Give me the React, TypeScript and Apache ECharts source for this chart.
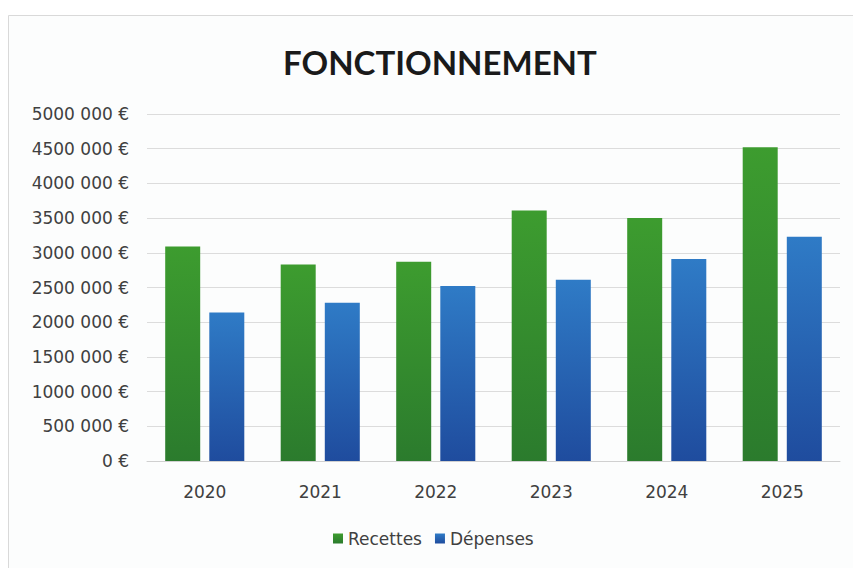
import React, { useEffect, useRef } from "react";
import * as echarts from "echarts";

const categories = ["2020", "2021", "2022", "2023", "2024", "2025"];
const recettes = [3090000, 2830000, 2870000, 3610000, 3500000, 4520000];
const depenses = [2140000, 2280000, 2520000, 2610000, 2910000, 3230000];
const seriesNames = ["Recettes", "Dépenses"];
const titleText = "FONCTIONNEMENT";

function fmt(v: number): string {
  if (v === 0) return "0 €";
  const k = Math.round(v / 1000);
  return `${k} 000 €`;
}

export default function App() {
  const ref = useRef<HTMLDivElement>(null);
  useEffect(() => {
    document.body.style.margin = "0";
    const chart = echarts.init(ref.current!, null, { renderer: "svg" });
    const font = "'DejaVu Sans', sans-serif";
    chart.setOption({
      animation: false,
      backgroundColor: "#ffffff",
      graphic: [
        {
          type: "rect",
          shape: { x: 8.5, y: 15.5, width: 860, height: 580 },
          style: { fill: "#fcfdfd", stroke: "#d9d9d9", lineWidth: 1 },
          z: -10,
        },
      ],
      title: {
        text: titleText,
        left: 278,
        top: 40,
        textStyle: { fontFamily: "Lato, sans-serif", fontSize: 33, fontWeight: "bold", color: "#1a1a1a" },
      },
      legend: {
        data: seriesNames,
        top: 530,
        left: 333,
        padding: 0,
        itemWidth: 10,
        itemHeight: 10,
        itemGap: 13,
        icon: "rect",
        textStyle: { fontFamily: font, fontSize: 17, color: "#404040" },
      },
      grid: { left: 147, right: 13, top: 114, bottom: 107, containLabel: false },
      xAxis: {
        type: "category",
        data: categories,
        axisLine: { lineStyle: { color: "#d0d0d0" } },
        axisTick: { show: false },
        axisLabel: { fontFamily: font, fontSize: 17, color: "#404040", margin: 22 },
      },
      yAxis: {
        type: "value",
        min: 0,
        max: 5000000,
        interval: 500000,
        axisLine: { show: false },
        axisTick: { show: false },
        splitLine: { lineStyle: { color: "#dcdcdc" } },
        axisLabel: { fontFamily: font, fontSize: 17, color: "#404040", margin: 18, formatter: fmt },
      },
      series: [
        {
          name: seriesNames[0],
          type: "bar",
          data: recettes,
          barWidth: 35,
          barGap: "26%",
          itemStyle: {
            color: new echarts.graphic.LinearGradient(0, 0, 0, 1, [
              { offset: 0, color: "#3d9c2f" },
              { offset: 1, color: "#2b7b2d" },
            ]),
          },
        },
        {
          name: seriesNames[1],
          type: "bar",
          data: depenses,
          barWidth: 35,
          itemStyle: {
            color: new echarts.graphic.LinearGradient(0, 0, 0, 1, [
              { offset: 0, color: "#2f7bc6" },
              { offset: 1, color: "#1f4c9e" },
            ]),
          },
        },
      ],
    });
    return () => chart.dispose();
  }, []);
  return <div ref={ref} style={{ width: 853, height: 568 }} />;
}
